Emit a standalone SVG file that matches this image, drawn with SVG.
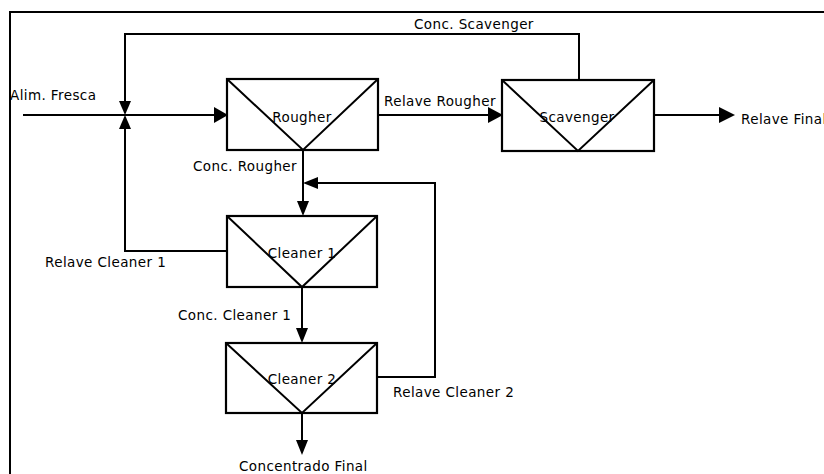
<svg xmlns="http://www.w3.org/2000/svg" width="824" height="474" viewBox="0 0 824 474">
<style>
.ln{fill:none;stroke:#000;stroke-width:2}
.bx{fill:#fff;stroke:#000;stroke-width:2.2}
.ah{fill:#000;stroke:none}
text{font-family:"DejaVu Sans","Liberation Sans",sans-serif;font-size:13.5px;letter-spacing:0.4px;fill:#000}
</style>
<rect width="824" height="474" fill="#fff"/>
<path d="M10,474 V12 H824" class="ln" stroke-width="1.6"/>
<g id="connectors">
<path class="ln" d="M23,115 H214"/>
<path class="ah" d="M214,107 L228,115 L214,123 Z"/>
<path class="ln" d="M579,80 V34 H125 V101"/>
<path class="ah" d="M119,101 L125,115 L131,101 Z"/>
<path class="ln" d="M227,251 H125 V129"/>
<path class="ah" d="M119,129 L125,115 L131,129 Z"/>
<path class="ln" d="M378,115 H490"/>
<path class="ah" d="M488,107 L503,115 L488,123 Z"/>
<path class="ln" d="M654,115 H721"/>
<path class="ah" d="M719,107 L735,115 L719,123 Z"/>
<path class="ln" d="M303,150 V202"/>
<path class="ah" d="M297,201 L303,216 L309,201 Z"/>
<path class="ln" d="M377,377 H435 V183 H316"/>
<path class="ah" d="M318,177 L303,183 L318,189 Z"/>
<path class="ln" d="M302,287 V330"/>
<path class="ah" d="M296,328 L302,343 L308,328 Z"/>
<path class="ln" d="M302,413 V442"/>
<path class="ah" d="M296,440 L302,455 L308,440 Z"/>
</g>
<g id="rougher">
<rect class="bx" x="227" y="79" width="151" height="71"/>
<path class="ln" d="M227,79 L303,150 L378,79"/>
<text x="302" y="122" text-anchor="middle">Rougher</text>
</g>
<g id="scavenger">
<rect class="bx" x="502" y="80" width="152" height="71"/>
<path class="ln" d="M502,80 L578,151 L654,80"/>
<text x="577" y="122" text-anchor="middle">Scavenger</text>
</g>
<g id="cleaner1">
<rect class="bx" x="227" y="216" width="150" height="71"/>
<path class="ln" d="M227,216 L302,287 L377,216"/>
<text x="302" y="258" text-anchor="middle">Cleaner 1</text>
</g>
<g id="cleaner2">
<rect class="bx" x="226" y="343" width="151" height="70"/>
<path class="ln" d="M226,343 L302,413 L377,343"/>
<text x="302" y="384" text-anchor="middle">Cleaner 2</text>
</g>
<g id="labels">
<text x="10" y="100">Alim. Fresca</text>
<text x="414" y="29">Conc. Scavenger</text>
<text x="384" y="106">Relave Rougher</text>
<text x="741" y="124">Relave Final</text>
<text x="193" y="171">Conc. Rougher</text>
<text x="45" y="267">Relave Cleaner 1</text>
<text x="178" y="320">Conc. Cleaner 1</text>
<text x="393" y="397">Relave Cleaner 2</text>
<text x="239" y="471">Concentrado Final</text>
</g>
</svg>
